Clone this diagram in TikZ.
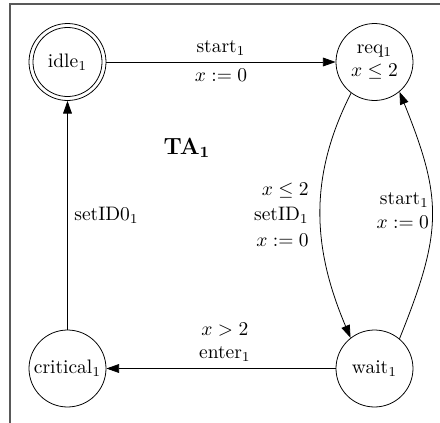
\documentclass[tikz,border=0pt]{standalone}
\usetikzlibrary{arrows.meta}
\begin{document}
\begin{tikzpicture}[x=0.513pt, y=-0.513pt,
  state/.style={draw, circle, minimum size=39.5pt, inner sep=0pt, align=center},
  trans/.style={-{Triangle[length=6.5pt,width=4.5pt]}},
  frame/.style={draw=black!65, line width=0.6pt}]
\useasboundingbox (0,0) rectangle (440,423);
\draw[frame] (10,423) -- (10,4) -- (440,4);
\node[state] (idle) at (67.5,62) {idle$_1$};
\draw (idle.center) circle[radius=17.7pt];
\node[state] (req) at (374.5,62) {req$_1$\\$x\leq 2$};
\node[state] (crit) at (67.5,368.5) {critical$_1$};
\node[state] (wait) at (374.5,368.5) {wait$_1$};
\node[font=\large] (ta) at (187,148) {$\mathbf{TA_1}$};
\draw[trans] (idle) -- node[above]{start$_1$} node[below]{$x:=0$} (req);
\draw[trans] (req.-127) to[out=-117,in=113] node[left, align=right, xshift=-2.5pt]{$x\leq 2$\\[1pt]setID$_1$\\[1pt]$x:=0$} (wait.128);
\draw[trans] (wait.50) to[out=68,in=-68,looseness=1.2] node[left, align=right, xshift=2pt, yshift=2.5pt]{start$_1$\\$x:=0$} (req.-50);
\draw[trans] (wait) -- node[above, align=center, xshift=2pt]{$x>2$\\enter$_1$} (crit);
\draw[trans] (crit) -- node[right]{setID0$_1$} (idle);
\end{tikzpicture}
\end{document}
